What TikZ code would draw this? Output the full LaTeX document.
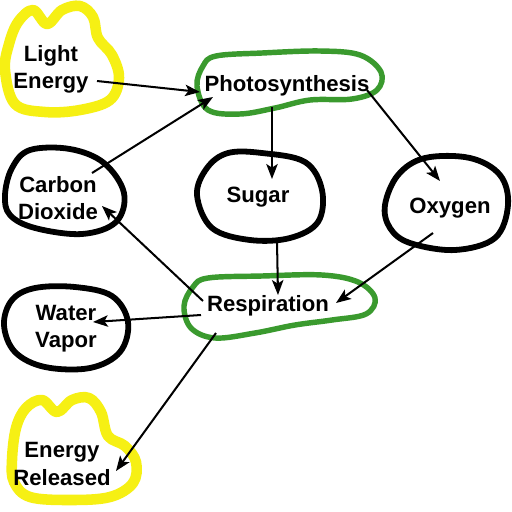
\documentclass[tikz,border=0pt]{standalone}
\usepackage{fontspec}
\setmainfont{Liberation Sans}
\usetikzlibrary{arrows.meta}
\definecolor{hlyellow}{RGB}{246,240,20}
\definecolor{hlgreen}{RGB}{58,154,46}
\tikzset{
  blob/.style={line width=3.3pt, black, line join=round},
  yblob/.style={line width=6pt, hlyellow, line join=round},
  gblob/.style={line width=3.1pt, hlgreen, line join=round},
  lbl/.style={font=\fontsize{12.6}{15.4}\selectfont\bfseries, align=center, inner sep=0pt},
  arr/.style={line width=1.15pt, -{Stealth[length=8.5pt,width=6.5pt,inset=2pt]}}
}
\begin{document}
\begin{tikzpicture}[x=0.02cm,y=-0.02cm]
\useasboundingbox (0,0) rectangle (512,512);
\fill[white] (0,0) rectangle (512,512);
% outlines
\draw[yblob] plot[smooth cycle, tension=0.6] coordinates {(5,70) (9,44) (18,22) (33,10) (47,24) (62,10) (80,6) (93,17) (98,38) (112,55) (119,78) (110,100) (80,110) (45,112) (15,104)};
\draw[yblob] plot[smooth cycle, tension=0.6] coordinates {(12,460) (16,428) (26,408) (42,400) (57,412) (72,400) (89,398) (101,412) (108,436) (125,446) (136,462) (133,483) (110,497) (70,500) (30,497) (14,482)};
\draw[gblob] plot[smooth cycle, tension=0.6] coordinates {(197,86) (203,66) (216,56) (262,53) (320,51) (360,55) (381,72) (377,90) (352,99) (310,100) (275,108) (240,114) (208,110)};
\draw[gblob] plot[smooth cycle, tension=0.6] coordinates {(184,306) (193,287) (208,278) (262,276) (322,275) (358,282) (375,298) (366,314) (332,320) (295,325) (255,333) (215,338) (191,328)};
\draw[blob] plot[smooth cycle, tension=0.6] coordinates {(5,195) (12,168) (30,150) (70,149) (104,163) (124,193) (116,222) (82,234) (35,228) (10,215)};
\draw[blob] plot[smooth cycle, tension=0.6] coordinates {(197,195) (207,168) (228,153) (262,153) (305,162) (322,190) (318,222) (290,238) (250,240) (212,228)};
\draw[blob] plot[smooth cycle, tension=0.6] coordinates {(385,205) (398,175) (425,158) (470,158) (500,175) (508,205) (495,238) (455,250) (410,243) (390,228)};
\draw[blob] plot[smooth cycle, tension=0.6] coordinates {(4,325) (12,300) (35,288) (75,287) (112,296) (128,322) (120,352) (90,368) (45,367) (15,352)};
% labels
\node[lbl] (light) at (51,69) {Light\\Energy};
\node[lbl] (photo) at (287,86) {Photosynthesis};
\node[lbl] (co2) at (58,198) {Carbon\\Dioxide};
\node[lbl] (sugar) at (258,197) {Sugar};
\node[lbl] (oxy) at (450,208) {Oxygen};
\node[lbl] (resp) at (268,306) {Respiration};
\node[lbl] (water) at (66,329) {Water\\Vapor};
\node[lbl] (energy) at (62,464) {Energy\\Released};
% connector end points
\coordinate (lightOut) at (97,81);
\coordinate (photoInL) at (200,92);
\coordinate (co2Out) at (92,173);
\coordinate (photoInC) at (213,97);
\coordinate (photoOutS) at (272,107);
\coordinate (sugarIn) at (272,179);
\coordinate (photoOutO) at (367,90);
\coordinate (oxyIn) at (440,181);
\coordinate (sugarOut) at (277,241);
\coordinate (respInS) at (278,295);
\coordinate (oxyOut) at (433,233);
\coordinate (respInO) at (336,303);
\coordinate (respOutC) at (203,301);
\coordinate (co2In) at (102,206);
\coordinate (respOutW) at (201,315);
\coordinate (waterIn) at (93,322);
\coordinate (respOutE) at (216,333);
\coordinate (energyIn) at (116,471);
% connectors
\draw[arr] (lightOut) -- (photoInL);
\draw[arr] (co2Out) -- (photoInC);
\draw[arr] (photoOutS) -- (sugarIn);
\draw[arr] (photoOutO) -- (oxyIn);
\draw[arr] (sugarOut) -- (respInS);
\draw[arr] (oxyOut) -- (respInO);
\draw[arr] (respOutC) -- (co2In);
\draw[arr] (respOutW) -- (waterIn);
\draw[arr] (respOutE) -- (energyIn);
\end{tikzpicture}
\end{document}
